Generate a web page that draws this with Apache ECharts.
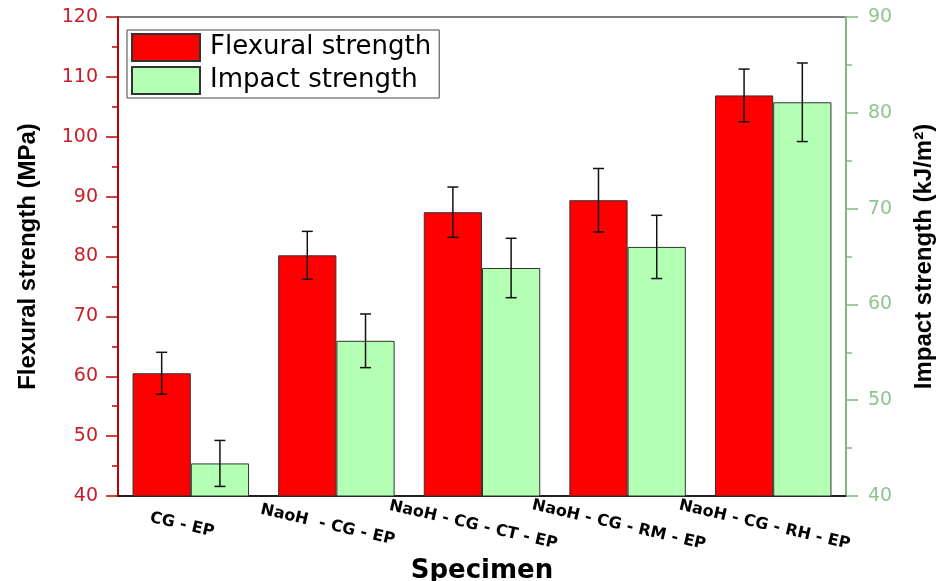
<!DOCTYPE html>
<html>
<head>
<meta charset="utf-8">
<script src="https://cdn.jsdelivr.net/npm/echarts@6/dist/echarts.min.js"></script>
<style>
html,body{margin:0;padding:0;background:#fff;}
#chart{width:941px;height:581px;}
</style>
</head>
<body>
<div id="chart"></div>
<script>
const categories = ['CG - EP', 'NaoH  - CG - EP', 'NaoH - CG - CT - EP', 'NaoH - CG - RM - EP', 'NaoH - CG - RH - EP'];
const flexural = [60.5, 80.2, 87.4, 89.4, 106.9];
const flexuralErr = [3.5, 4.0, 4.2, 5.3, 4.4];
const impact = [43.4, 56.2, 63.8, 66.0, 81.1];
const impactErr = [2.4, 2.8, 3.1, 3.3, 4.1];
const leftTicks = {min: 40, max: 120, interval: 10};
const rightTicks = {min: 40, max: 90, interval: 10};

const chart = echarts.init(document.getElementById('chart'));

function errRender(offsetFactor) {
  return function (params, api) {
    const i = api.value(0), v = api.value(1), e = api.value(2);
    const band = api.size([1, 0])[0];
    const off = offsetFactor * band;
    const top = api.coord([i, v + e]);
    const bot = api.coord([i, v - e]);
    const x = top[0] + off;
    const cap = 5.5;
    const st = {stroke: '#111', lineWidth: 1.5};
    return {
      type: 'group',
      children: [
        {type: 'line', shape: {x1: x, y1: top[1], x2: x, y2: bot[1]}, style: st},
        {type: 'line', shape: {x1: x - cap, y1: top[1], x2: x + cap, y2: top[1]}, style: st},
        {type: 'line', shape: {x1: x - cap, y1: bot[1], x2: x + cap, y2: bot[1]}, style: st}
      ]
    };
  };
}

const option = {
  animation: false,
  backgroundColor: '#fff',
  grid: {left: 118, right: 95, top: 17, bottom: 85, outerBoundsMode: 'none', containLabel: false,
         show: true, borderColor: '#000', borderWidth: 1, backgroundColor: 'transparent'},
  legend: {
    data: ['Flexural strength', 'Impact strength'],
    orient: 'vertical',
    left: 127, top: 30,
    icon: 'rect',
    itemWidth: 68, itemHeight: 27, itemGap: 4,
    padding: [3, 8, 3, 4],
    borderColor: '#444', borderWidth: 1, backgroundColor: '#fff',
    textStyle: {fontFamily: 'DejaVu Sans', fontSize: 26, color: '#000', padding: [0, 0, 0, 5]}
  },
  xAxis: [
    {
      type: 'category', data: categories, position: 'bottom',
      name: 'Specimen', nameLocation: 'middle', nameGap: 49,
      nameTextStyle: {fontFamily: 'DejaVu Sans', fontWeight: 'bold', fontSize: 26, color: '#000'},
      axisLine: {lineStyle: {color: '#000', width: 1.5}},
      axisTick: {alignWithLabel: true, length: 8, lineStyle: {color: '#000', width: 1.5}},
      axisLabel: {
        interval: 0, rotate: -13, align: 'center', verticalAlign: 'middle', margin: 31,
        padding: [0, 18, 0, 0],
        fontFamily: 'DejaVu Sans', fontWeight: 'bold', fontSize: 16, color: '#000'
      }
    },
    {
      type: 'category', data: categories, position: 'bottom',
      axisLine: {show: false},
      axisTick: {length: 5, lineStyle: {color: '#000', width: 1.5}},
      axisLabel: {show: false}
    }
  ],
  yAxis: [
    {
      type: 'value', position: 'left', min: leftTicks.min, max: leftTicks.max, interval: leftTicks.interval,
      name: 'Flexural strength (MPa)', nameLocation: 'middle', nameGap: 78, nameRotate: 90,
      nameTextStyle: {fontFamily: 'Liberation Sans', fontWeight: 'bold', fontSize: 24, color: '#000'},
      axisLine: {show: true, lineStyle: {color: '#c00000', width: 2}},
      axisTick: {show: true, length: 12, lineStyle: {color: '#c00000', width: 1.5}},
      minorTick: {show: true, splitNumber: 2, length: 6, lineStyle: {color: '#c00000', width: 1.5}},
      splitLine: {show: false},
      axisLabel: {margin: 20, fontFamily: 'DejaVu Sans', fontSize: 19, color: '#c8202a'}
    },
    {
      type: 'value', position: 'right', min: rightTicks.min, max: rightTicks.max, interval: rightTicks.interval,
      name: 'Impact strength (kJ/m²)', nameLocation: 'middle', nameGap: 66, nameRotate: 90,
      nameTextStyle: {fontFamily: 'Liberation Sans', fontWeight: 'bold', fontSize: 24, color: '#000'},
      axisLine: {show: true, lineStyle: {color: '#80b880', width: 2}},
      axisTick: {show: true, length: 12, lineStyle: {color: '#80b880', width: 1.5}},
      minorTick: {show: true, splitNumber: 2, length: 6, lineStyle: {color: '#80b880', width: 1.5}},
      splitLine: {show: false},
      axisLabel: {margin: 22, fontFamily: 'DejaVu Sans', fontSize: 19, color: '#8ec48e'}
    }
  ],
  series: [
    {
      name: 'Flexural strength', type: 'bar', xAxisIndex: 0, yAxisIndex: 0, data: flexural,
      barGap: '0%', barCategoryGap: '20%',
      itemStyle: {color: '#ff0000', borderColor: '#333', borderWidth: 1}
    },
    {
      name: 'Impact strength', type: 'bar', xAxisIndex: 0, yAxisIndex: 1, data: impact,
      barGap: '0%', barCategoryGap: '20%',
      itemStyle: {color: '#b3ffb3', borderColor: '#333', borderWidth: 1}
    },
    {
      name: 'flexErr', type: 'custom', xAxisIndex: 0, yAxisIndex: 0, z: 5,
      renderItem: errRender(-0.2),
      data: flexural.map((v, i) => [i, v, flexuralErr[i]])
    },
    {
      name: 'impactErr', type: 'custom', xAxisIndex: 0, yAxisIndex: 1, z: 5,
      renderItem: errRender(0.2),
      data: impact.map((v, i) => [i, v, impactErr[i]])
    }
  ]
};
chart.setOption(option);
</script>
</body>
</html>
